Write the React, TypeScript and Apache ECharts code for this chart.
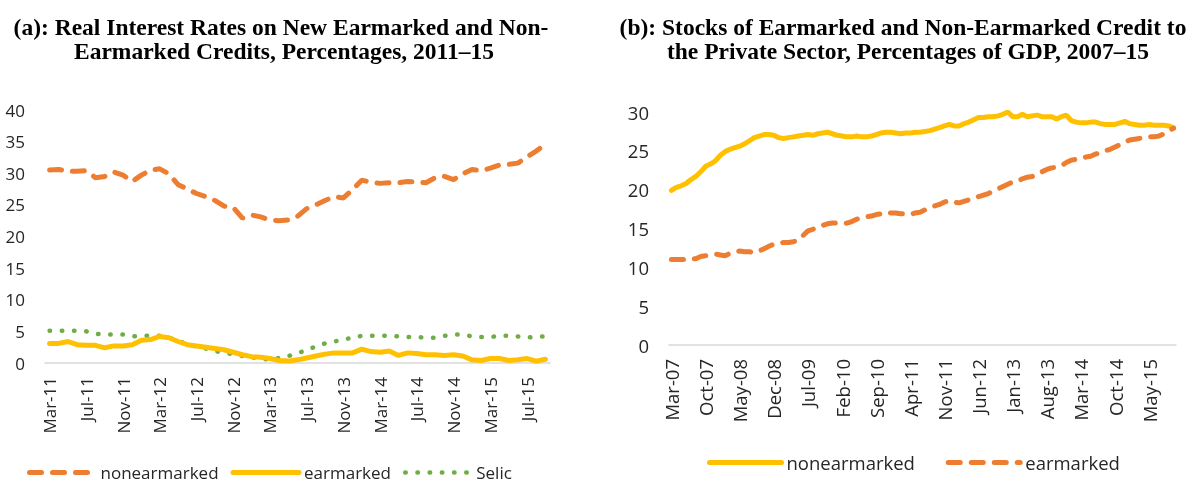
import React, { useEffect, useRef } from "react";
import * as echarts from "echarts";

const MONTHS = ["Jan", "Feb", "Mar", "Apr", "May", "Jun", "Jul", "Aug", "Sep", "Oct", "Nov", "Dec"];
function monthLabels(startYear: number, startMonth: number, count: number): string[] {
  const out: string[] = [];
  for (let i = 0; i < count; i++) {
    const t = startMonth + i;
    const y = startYear + Math.floor(t / 12);
    out.push(MONTHS[t % 12] + "-" + String(y % 100).padStart(2, "0"));
  }
  return out;
}

// Panel (a): Mar-11 .. Sep-15
const categoriesA = monthLabels(2011, 2, 55);
const nonearmarkedA = [30.5, 30.6, 30.3, 30.3, 30.4, 29.3, 29.5, 30.2, 29.7, 28.7, 29.7, 30.5, 30.7, 29.9, 28.2, 27.5, 26.8, 26.3, 25.7, 24.8, 24.6, 22.9, 23.4, 23.1, 22.6, 22.5, 22.6, 23.2, 24.4, 25.0, 25.7, 26.3, 26.1, 27.4, 28.9, 28.6, 28.4, 28.5, 28.5, 28.7, 28.6, 28.5, 29.3, 29.5, 29.0, 29.9, 30.6, 30.4, 30.8, 31.3, 31.4, 31.6, 32.6, 33.5, 34.6];
const earmarkedA = [3.1, 3.1, 3.4, 2.9, 2.8, 2.8, 2.4, 2.7, 2.7, 2.9, 3.6, 3.7, 4.2, 4.0, 3.4, 2.9, 2.7, 2.5, 2.3, 2.1, 1.7, 1.3, 1.0, 0.9, 0.7, 0.4, 0.3, 0.5, 0.8, 1.1, 1.4, 1.6, 1.6, 1.6, 2.2, 1.8, 1.7, 1.9, 1.2, 1.6, 1.5, 1.3, 1.3, 1.2, 1.3, 1.1, 0.5, 0.4, 0.7, 0.7, 0.4, 0.5, 0.7, 0.3, 0.6];
const selicA = [5.1, 5.1, 5.1, 5.1, 5.0, 4.6, 4.5, 4.5, 4.5, 4.2, 4.3, 4.3, 4.3, 4.0, 3.6, 2.9, 2.6, 2.3, 1.9, 1.6, 1.4, 1.1, 0.9, 0.7, 0.5, 0.8, 1.1, 1.5, 2.1, 2.6, 3.1, 3.4, 3.7, 4.0, 4.3, 4.3, 4.3, 4.3, 4.2, 4.1, 4.1, 4.0, 4.0, 4.3, 4.5, 4.5, 4.2, 4.1, 4.1, 4.3, 4.3, 4.2, 4.0, 4.2, 4.2];

// Panel (b): Mar-07 .. Oct-15
const categoriesB = monthLabels(2007, 2, 104);
const nonearmarkedB = [19.9, 20.3, 20.5, 20.8, 21.3, 21.7, 22.3, 23.0, 23.3, 23.7, 24.4, 24.9, 25.2, 25.4, 25.6, 25.9, 26.3, 26.7, 26.9, 27.1, 27.1, 27.0, 26.7, 26.6, 26.7, 26.8, 26.9, 27.0, 27.1, 27.0, 27.2, 27.3, 27.4, 27.2, 27.0, 26.9, 26.8, 26.8, 26.9, 26.8, 26.8, 26.9, 27.1, 27.3, 27.4,
  27.4, 27.3, 27.2, 27.3, 27.3, 27.4, 27.4, 27.5, 27.6, 27.8, 28.0, 28.2, 28.4, 28.2, 28.2, 28.5, 28.7, 29.0, 29.3, 29.3, 29.4, 29.4, 29.5, 29.7, 30.0, 29.4, 29.4, 29.7, 29.4, 29.5, 29.6, 29.4, 29.4, 29.4, 29.1, 29.4, 29.6, 28.9, 28.7, 28.6, 28.6, 28.7, 28.7, 28.5, 28.4, 28.4, 28.4, 28.6, 28.8, 28.5, 28.4, 28.3, 28.3, 28.4, 28.3, 28.3, 28.3, 28.2, 28.0];
const earmarkedB = [11.0, 11.0, 11.0, 11.0, 11.1, 11.1, 11.4, 11.5, 11.6, 11.7, 11.6, 11.5, 11.8, 12.0, 12.1, 12.0, 12.0, 11.9, 12.1, 12.4, 12.7, 13.0, 13.1, 13.2, 13.2, 13.3, 13.5, 14.1, 14.7, 14.9, 15.2, 15.4, 15.6, 15.7, 15.7, 15.6, 15.7, 15.9, 16.2, 16.3, 16.5, 16.6, 16.8, 16.9, 17.1,
  17.0, 17.0, 16.9, 16.9, 16.8, 17.0, 17.1, 17.4, 17.6, 17.9, 18.1, 18.4, 18.6, 18.4, 18.3, 18.5, 18.7, 18.9, 19.1, 19.3, 19.5, 19.8, 20.1, 20.4, 20.7, 21.0, 21.1, 21.4, 21.6, 21.7, 22.0, 22.3, 22.6, 22.8, 22.9, 23.1, 23.5, 23.8, 23.9, 24.0, 24.2, 24.3, 24.6, 24.7, 25.0, 25.2, 25.5, 25.8, 26.1, 26.4, 26.5, 26.6, 26.7, 26.8, 26.8, 26.9, 27.2, 27.6, 27.9];

const titleA1 = "(a): Real Interest Rates on New Earmarked and Non-";
const titleA2 = "Earmarked Credits, Percentages, 2011–15";
const titleB1 = "(b): Stocks of Earmarked and Non-Earmarked Credit to";
const titleB2 = "the Private Sector, Percentages of GDP, 2007–15";

const ORANGE = "#ED7D31";
const YELLOW = "#FFC000";
const GREEN = "#70AD47";
const FONT = "Open Sans";
const TEXT = "#262626";

export default function App() {
  const ref = useRef<HTMLDivElement>(null);
  useEffect(() => {
    document.body.style.margin = "0";
    const chart = echarts.init(ref.current!, null, { renderer: "svg" });
    const dashed = { color: ORANGE, width: 5, type: [12, 11] as any, cap: "round" as const };
    const solid = { color: YELLOW, width: 5, type: "solid" as const, cap: "round" as const };
    const dotted = { color: GREEN, width: 4.5, type: [0.5, 11.7] as any, cap: "round" as const };
    const xAxisCommon = {
      type: "category" as const,
      boundaryGap: true,
      axisTick: { show: false },
      axisLine: { lineStyle: { color: "#d9d9d9", width: 1.5 } },
    };
    const yAxisCommon = {
      type: "value" as const,
      min: 0,
      interval: 5,
      splitLine: { show: false },
      axisLine: { show: false },
      axisTick: { show: false },
    };
    const labelA = { fontFamily: FONT, fontSize: 17, color: TEXT };
    const labelB = { fontFamily: FONT, fontSize: 18.5, color: TEXT };
    const titleStyle = { fontFamily: "Liberation Serif", fontSize: 23.5, fontWeight: "bold", fill: "#000" };
    chart.setOption({
      animation: false,
      graphic: [
        { type: "text", x: 281, y: 27, style: { ...titleStyle, text: titleA1, align: "center", verticalAlign: "middle" } },
        { type: "text", x: 284, y: 51, style: { ...titleStyle, text: titleA2, align: "center", verticalAlign: "middle" } },
        { type: "text", x: 903, y: 27, style: { ...titleStyle, text: titleB1, align: "center", verticalAlign: "middle" } },
        { type: "text", x: 908, y: 51, style: { ...titleStyle, text: titleB2, align: "center", verticalAlign: "middle" } },
      ],
      grid: [
        { left: 45, right: 648, top: 110, bottom: 124 },
        { left: 669, right: 22, top: 112, bottom: 142 },
      ],
      xAxis: [
        { ...xAxisCommon, gridIndex: 0, data: categoriesA, axisLabel: { ...labelA, rotate: 90, margin: 14, interval: 3 } },
        { ...xAxisCommon, gridIndex: 1, data: categoriesB, axisLabel: { ...labelB, rotate: 90, margin: 14, interval: 6 } },
      ],
      yAxis: [
        { ...yAxisCommon, gridIndex: 0, max: 40, axisLabel: { ...labelA, margin: 20 } },
        { ...yAxisCommon, gridIndex: 1, max: 30, axisLabel: { ...labelB, margin: 20 } },
      ],
      legend: [
        {
          left: 27, top: 464, padding: 0, itemWidth: 66, itemHeight: 14, itemGap: 12,
          textStyle: labelA,
          itemStyle: { color: "transparent", borderWidth: 0 },
          data: [
            { name: "nonearmarked", lineStyle: { width: 5, cap: "round" } },
            { name: "earmarked", lineStyle: { width: 5, cap: "round" } },
            { name: "Selic", lineStyle: { width: 4.5, cap: "round" } },
          ],
        },
        {
          left: 707, top: 453, padding: 0, itemWidth: 72, itemHeight: 14, itemGap: 26,
          textStyle: labelB,
          itemStyle: { color: "transparent", borderWidth: 0 },
          data: [
            { name: "nonearmarked ", lineStyle: { width: 5, cap: "round" } },
            { name: "earmarked ", lineStyle: { width: 5, cap: "round" } },
          ],
        },
      ],
      series: [
        { name: "nonearmarked", type: "line", xAxisIndex: 0, yAxisIndex: 0, data: nonearmarkedA, symbol: "none", lineStyle: dashed, itemStyle: { color: ORANGE } },
        { name: "earmarked", type: "line", xAxisIndex: 0, yAxisIndex: 0, data: earmarkedA, symbol: "none", lineStyle: solid, itemStyle: { color: YELLOW } },
        { name: "Selic", type: "line", xAxisIndex: 0, yAxisIndex: 0, data: selicA, symbol: "none", lineStyle: dotted, itemStyle: { color: GREEN }, z: 1 },
        { name: "nonearmarked ", type: "line", xAxisIndex: 1, yAxisIndex: 1, data: nonearmarkedB, symbol: "none", lineStyle: solid, itemStyle: { color: YELLOW } },
        { name: "earmarked ", type: "line", xAxisIndex: 1, yAxisIndex: 1, data: earmarkedB, symbol: "none", lineStyle: dashed, itemStyle: { color: ORANGE } },
      ],
    });
    return () => chart.dispose();
  }, []);
  return <div ref={ref} style={{ position: "fixed", left: 0, top: 0, width: 1198, height: 487 }} />;
}
